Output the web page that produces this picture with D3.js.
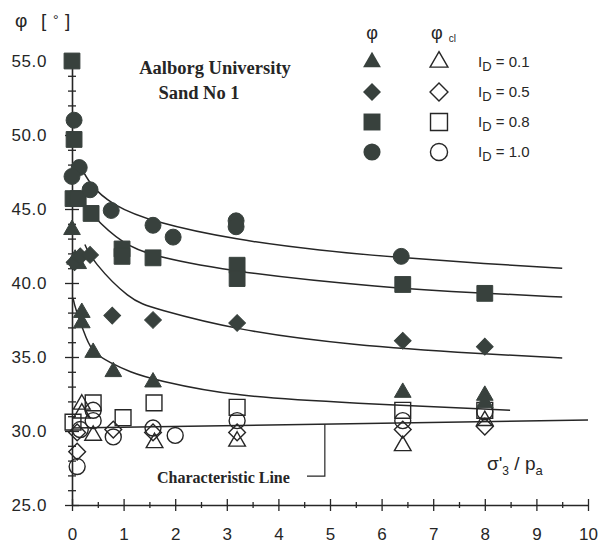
<!DOCTYPE html>
<html><head><meta charset="utf-8">
<script src="https://cdn.jsdelivr.net/npm/d3@7"></script>
<style>body{margin:0;background:#fff}svg{display:block}</style>
</head><body>
<svg id="c" width="601" height="551"></svg>
<script>
// ---- data (σ'3/pa , φ in degrees) ----
const xTicks = [0,1,2,3,4,5,6,7,8,9,10];
const yTicks = [25,30,35,40,45,50,55];
const yTickLabels = ["25.0","30.0","35.0","40.0","45.0","50.0","55.0"];

// peak friction angle φ (filled)
const phiID01 = [[0.0,43.6],[0.06,41.6],[0.12,41.3],[0.19,38.0],[0.19,37.3],[0.41,35.3],[0.8,34.0],[1.57,33.3],[6.41,32.6],[8.0,32.4],[8.0,31.9]];
const phiID05 = [[0.05,41.4],[0.16,41.8],[0.35,41.9],[0.78,37.8],[1.57,37.5],[3.2,37.3],[6.41,36.1],[8.0,35.7]];
const phiID08 = [[0.0,55.0],[0.04,49.7],[0.02,45.7],[0.12,45.7],[0.37,44.7],[0.97,42.3],[0.97,41.8],[1.57,41.7],[3.2,41.2],[3.2,40.3],[6.41,39.9],[8.0,39.3]];
const phiID10 = [[0.04,51.0],[0.14,47.8],[0.0,47.2],[0.35,46.3],[0.76,44.9],[1.57,43.9],[1.96,43.1],[3.18,44.2],[3.18,43.8],[6.38,41.8]];

// characteristic friction angle φcl (open)
const phiclID01 = [[0.19,31.8],[0.19,31.2],[0.41,29.7],[1.6,29.2],[3.2,29.3],[6.41,29.0],[8.0,30.7]];
const phiclID05 = [[0.1,28.6],[0.1,29.9],[0.8,30.1],[1.57,29.9],[3.2,29.9],[6.41,30.1],[8.0,30.3]];
const phiclID08 = [[0.41,31.9],[0.02,30.6],[0.99,30.9],[1.59,31.9],[3.2,31.6],[6.41,31.4],[8.0,31.4]];
const phiclID10 = [[0.41,31.4],[0.41,30.7],[0.16,30.1],[0.8,29.6],[2.0,29.7],[0.1,27.6],[1.57,30.2],[3.2,30.7],[6.41,30.7],[8.0,31.3]];

// fitted curves
const curveID10 = [[0.12,48.2],[0.35,46.6],[0.76,45.3],[1.57,44.1],[3.2,42.9],[4.8,42.2],[6.4,41.7],[8.0,41.3],[9.5,41.0]];
const curveID08 = [[0.1,46.0],[0.37,44.6],[1.0,42.6],[1.57,41.8],[3.2,40.7],[6.0,39.7],[8.0,39.3],[9.5,39.05]];
const curveID05 = [[0.25,42.6],[0.39,41.5],[1.12,38.85],[1.57,38.3],[3.2,36.8],[5.4,35.8],[8.0,35.2],[9.5,34.93]];
const curveID01 = [[0.02,39.0],[0.06,38.3],[0.29,36.1],[0.41,35.3],[0.74,34.6],[1.12,34.0],[1.59,33.45],[3.2,32.3],[5.4,31.9],[8.49,31.4]];
const charLine = [[0,30.2],[10,30.75]];

const legendRows = ["0.1","0.5","0.8","1.0"];

// ---- drawing ----
const svg = d3.select("#c");
const x = d3.scaleLinear().domain([0,10]).range([72,588]);
const y = d3.scaleLinear().domain([25,55]).range([505,61]);
const ink = "#262626", fillc = "#38413d";
const sansF = "'Liberation Sans', Arial, sans-serif";
const serifF = "'Liberation Serif', 'Times New Roman', serif";

// axes
const xa = svg.append("g").attr("transform",`translate(0,${y(25)})`)
  .call(d3.axisBottom(x).tickValues(d3.range(0,10.01,0.5)).tickSize(0).tickFormat(""));
xa.select(".domain").attr("stroke",ink).attr("stroke-width",1.6);
xa.selectAll(".tick line").attr("y1",d=>Number.isInteger(d)?-6:-3).attr("y2",d=>Number.isInteger(d)?6:3)
  .attr("stroke",ink).attr("stroke-width",1.3);
const xl = svg.append("g").attr("transform",`translate(0,${y(25)})`)
  .call(d3.axisBottom(x).tickValues(xTicks).tickSize(0).tickPadding(23).tickFormat(d3.format("d")));
xl.select(".domain").remove();
xl.selectAll("text").attr("font-family",sansF).attr("font-size",17).attr("fill",ink);

const ya = svg.append("g").attr("transform",`translate(${x(0)},0)`)
  .call(d3.axisLeft(y).tickValues(d3.range(25,55.01,1)).tickSize(0).tickFormat(""));
ya.select(".domain").attr("stroke",ink).attr("stroke-width",1.6);
ya.selectAll(".tick line").attr("x1",d=>d%5===0?-7:-4).attr("x2",d=>d%5===0?7:4)
  .attr("stroke",ink).attr("stroke-width",1.3);
const yl = svg.append("g").attr("transform",`translate(47,0)`)
  .call(d3.axisLeft(y).tickValues(yTicks).tickSize(0).tickPadding(0).tickFormat((d,i)=>yTickLabels[i]));
yl.select(".domain").remove();
yl.selectAll("text").attr("font-family",sansF).attr("font-size",17).attr("fill",ink).attr("letter-spacing",0.6);

// lines
const line = d3.line().x(d=>x(d[0])).y(d=>y(d[1])).curve(d3.curveBasis);
[curveID10,curveID08,curveID05,curveID01].forEach(c=>{
  svg.append("path").attr("d",line(c)).attr("fill","none").attr("stroke",ink).attr("stroke-width",1.5);
});
svg.append("path").attr("d",d3.line().x(d=>x(d[0])).y(d=>y(d[1]))(charLine))
  .attr("fill","none").attr("stroke",ink).attr("stroke-width",1.5);

// symbols
const shapes = {
  tri: {type:d3.symbolTriangle,size:120,rot:0},
  dia: {type:d3.symbolSquare,size:140,rot:45},
  sq:  {type:d3.symbolSquare,size:250,rot:0},
  cir: {type:d3.symbolCircle,size:200,rot:0}
};
function marks(data,shape,filled){
  const s = shapes[shape];
  svg.append("g").selectAll("path").data(data).join("path")
    .attr("d",d3.symbol().type(s.type).size(s.size))
    .attr("transform",d=>`translate(${x(d[0])},${y(d[1])}) rotate(${s.rot})`)
    .attr("fill",filled?fillc:"#fff").attr("fill-opacity",filled?1:0.0)
    .attr("stroke",filled?fillc:ink).attr("stroke-width",filled?1:1.4);
}
marks(phiclID10,"cir",false);
marks(phiclID08,"sq",false);
marks(phiclID05,"dia",false);
marks(phiclID01,"tri",false);
marks(phiID01,"tri",true);
marks(phiID05,"dia",true);
marks(phiID08,"sq",true);
marks(phiID10,"cir",true);

// legend
const lg = svg.append("g");
lg.append("text").attr("x",372).attr("y",39).attr("text-anchor","middle").attr("font-family",sansF).attr("font-size",18).attr("fill",ink).text("φ");
const phcl = lg.append("text").attr("x",431).attr("y",39).attr("font-family",sansF).attr("font-size",18).attr("fill",ink);
phcl.append("tspan").text("φ");
phcl.append("tspan").attr("dx",6).attr("dy",3).attr("font-size",10).text("cl");
const lshapes = ["tri","dia","sq","cir"];
legendRows.forEach((r,i)=>{
  const yy = 62 + i*30;
  const s = shapes[lshapes[i]];
  const sz = s.size*1.15;
  lg.append("path").attr("d",d3.symbol().type(s.type).size(sz)).attr("transform",`translate(372,${yy}) rotate(${s.rot})`).attr("fill",fillc);
  lg.append("path").attr("d",d3.symbol().type(s.type).size(sz)).attr("transform",`translate(439,${yy}) rotate(${s.rot})`).attr("fill","none").attr("stroke",ink).attr("stroke-width",1.4);
  const t = lg.append("text").attr("x",478).attr("y",yy+5).attr("font-family",sansF).attr("font-size",15).attr("fill",ink);
  t.append("tspan").text("I");
  t.append("tspan").attr("dy",4).attr("font-size",13).text("D");
  t.append("tspan").attr("dy",-4).text(" = "+r);
});

// titles
svg.append("text").attr("x",15).attr("y",27).attr("font-family",sansF).attr("font-size",19).attr("fill",ink).text("φ");
svg.append("text").attr("x",41).attr("y",27).attr("font-family",sansF).attr("font-size",19).attr("fill",ink).text("[");
svg.append("text").attr("x",53).attr("y",25).attr("font-family",sansF).attr("font-size",14).attr("fill",ink).text("°");
svg.append("text").attr("x",65).attr("y",27).attr("font-family",sansF).attr("font-size",19).attr("fill",ink).text("]");
svg.append("text").attr("x",215).attr("y",74).attr("text-anchor","middle").attr("font-family",serifF).attr("font-weight","bold").attr("font-size",18.5).attr("fill",ink).text("Aalborg University");
svg.append("text").attr("x",199).attr("y",99).attr("text-anchor","middle").attr("font-family",serifF).attr("font-weight","bold").attr("font-size",18.5).attr("fill",ink).text("Sand No 1");
svg.append("text").attr("x",157).attr("y",483).attr("font-family",serifF).attr("font-weight","bold").attr("font-size",16).attr("fill",ink).text("Characteristic Line");
svg.append("path").attr("d",`M307,${y(26.95)}H${x(4.9)}V${y(30.45)}`).attr("fill","none").attr("stroke",ink).attr("stroke-width",1.2);

const xt = svg.append("text").attr("x",487).attr("y",470).attr("font-family",sansF).attr("font-size",19).attr("fill",ink);
xt.append("tspan").text("σ'");
xt.append("tspan").attr("dy",5).attr("font-size",12).text("3");
xt.append("tspan").attr("dy",-5).text(" / p");
xt.append("tspan").attr("dy",5).attr("font-size",13).text("a");
</script>
</body></html>
